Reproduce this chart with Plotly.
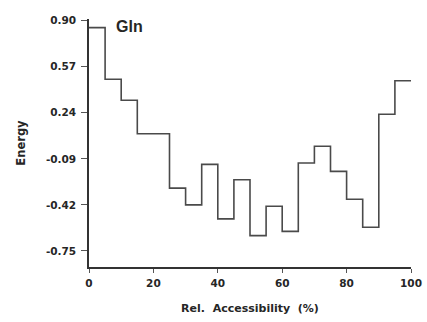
import plotly.graph_objects as go

# Bin edges of relative accessibility (%) and the energy for each bin
bin_edges = [0, 5, 10, 15, 25, 30, 35, 40, 45, 50, 55, 60, 65, 70, 75, 80, 85, 90, 95, 100]
energy = [0.85, 0.48, 0.33, 0.09, -0.30, -0.42, -0.13, -0.52, -0.24, -0.64,
          -0.43, -0.61, -0.12, 0.00, -0.18, -0.38, -0.58, 0.23, 0.47]

y_tick_vals = [0.90, 0.57, 0.24, -0.09, -0.42, -0.75]
y_tick_text = ["0.90", "0.57", "0.24", "-0.09", "-0.42", "-0.75"]
x_tick_vals = [0, 20, 40, 60, 80, 100]
x_tick_text = ["0", "20", "40", "60", "80", "100"]

# step line: each value holds until the next edge
step_y = energy + [energy[-1]]

fig = go.Figure()
fig.add_trace(go.Scatter(
    x=bin_edges, y=step_y, mode="lines", line_shape="hv",
    line=dict(color="#4a4a4a", width=1.6), showlegend=False, hoverinfo="skip",
))

font_label = "DejaVu Sans, sans-serif"
font_name = "Liberation Sans, Arial, sans-serif"
ink = "#262626"

fig.add_annotation(
    x=7.8, y=0.855, xref="x", yref="y", text="<b>Gln</b>", showarrow=False,
    xanchor="left", yanchor="middle",
    font=dict(family=font_name, size=16, color=ink),
)

fig.update_layout(
    width=427, height=322,
    margin=dict(l=89, r=16, t=19, b=55, autoexpand=False),
    paper_bgcolor="white", plot_bgcolor="white",
    font=dict(family=font_label, color=ink),
    xaxis=dict(
        range=[0, 100], tickvals=x_tick_vals,
        ticktext=[f"<b>{t}</b>" for t in x_tick_text],
        showline=True, linecolor="#333333", linewidth=1.5,
        ticks="outside", ticklen=4, tickwidth=1.2, tickcolor="#555555",
        ticklabelstandoff=2, automargin=False,
        showgrid=False, zeroline=False,
        tickfont=dict(size=10.5, family=font_label, color=ink),
        title=dict(text="<b>Rel.  Accessibility  (%)</b>", standoff=16,
                   font=dict(size=11, family=font_label, color=ink)),
    ),
    yaxis=dict(
        range=[-0.865, 0.912], tickvals=y_tick_vals,
        ticktext=[f"<b>{t}</b>" for t in y_tick_text],
        showline=True, linecolor="#333333", linewidth=1.5,
        ticks="outside", ticklen=6, tickwidth=1.2, tickcolor="#555555",
        ticklabelstandoff=3, automargin=False,
        showgrid=False, zeroline=False,
        tickfont=dict(size=10.5, family=font_label, color=ink),
        title=dict(text="<b>Energy</b>", standoff=18,
                   font=dict(size=11.5, family=font_label, color=ink)),
    ),
)

fig.write_html("out.html")
